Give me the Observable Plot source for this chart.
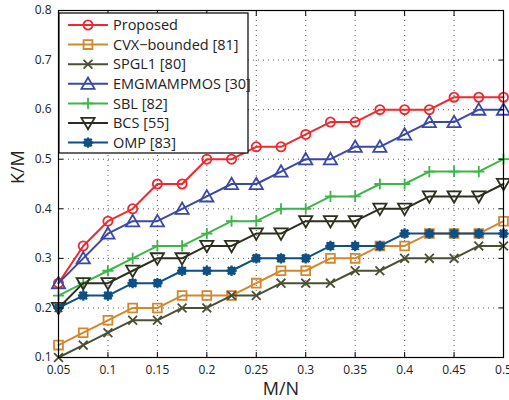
<!DOCTYPE html>
<html>
<head>
<meta charset="utf-8">
<script src="https://cdn.jsdelivr.net/npm/d3@7"></script>
<script src="https://cdn.jsdelivr.net/npm/@observablehq/plot@0.6"></script>
<style>
  html, body { margin: 0; padding: 0; background: #fff; }
  #chart { width: 509px; height: 400px; }
</style>
</head>
<body>
<div id="chart"></div>
<script>
// ---- data ----
const mn = [0.05, 0.075, 0.1, 0.125, 0.15, 0.175, 0.2, 0.225, 0.25, 0.275, 0.3, 0.325, 0.35, 0.375, 0.4, 0.425, 0.45, 0.475, 0.5];
const proposed   = [0.25, 0.325, 0.375, 0.4, 0.45, 0.45, 0.5, 0.5, 0.525, 0.525, 0.55, 0.575, 0.575, 0.6, 0.6, 0.6, 0.625, 0.625, 0.625];
const cvxBounded = [0.125, 0.15, 0.175, 0.2, 0.2, 0.225, 0.225, 0.225, 0.25, 0.275, 0.275, 0.3, 0.3, 0.325, 0.325, 0.35, 0.35, 0.35, 0.375];
const spgl1      = [0.1, 0.125, 0.15, 0.175, 0.175, 0.2, 0.2, 0.225, 0.225, 0.25, 0.25, 0.25, 0.275, 0.275, 0.3, 0.3, 0.3, 0.325, 0.325];
const emgmampmos = [0.25, 0.3, 0.35, 0.375, 0.375, 0.4, 0.425, 0.45, 0.45, 0.475, 0.5, 0.5, 0.525, 0.525, 0.55, 0.575, 0.575, 0.6, 0.6];
const sbl        = [0.225, 0.25, 0.275, 0.3, 0.325, 0.325, 0.35, 0.375, 0.375, 0.4, 0.4, 0.425, 0.425, 0.45, 0.45, 0.475, 0.475, 0.475, 0.5];
const bcs        = [0.2, 0.25, 0.25, 0.275, 0.3, 0.3, 0.325, 0.325, 0.35, 0.35, 0.375, 0.375, 0.375, 0.4, 0.4, 0.425, 0.425, 0.425, 0.45];
const omp        = [0.2, 0.225, 0.225, 0.25, 0.25, 0.275, 0.275, 0.275, 0.3, 0.3, 0.3, 0.325, 0.325, 0.325, 0.35, 0.35, 0.35, 0.35, 0.35];

const seriesNames = ["Proposed", "CVX\u2212bounded [81]", "SPGL1 [80]", "EMGMAMPMOS [30]", "SBL [82]", "BCS [55]", "OMP [83]"];
const seriesValues = [proposed, cvxBounded, spgl1, emgmampmos, sbl, bcs, omp];
const seriesColors = ["#ee2a2f", "#d4862c", "#4b5034", "#3a48a6", "#3db54a", "#2c2e1e", "#0e4f84"];

const xTicks = [0.05, 0.1, 0.15, 0.2, 0.25, 0.3, 0.35, 0.4, 0.45, 0.5];
const yTicks = [0.1, 0.2, 0.3, 0.4, 0.5, 0.6, 0.7, 0.8];

// ---- custom marker symbols (size = pi r^2) ----
const rad = s => Math.sqrt(s / Math.PI);
const symCircle = { draw(c, s) { const r = rad(s); c.moveTo(r, 0); c.arc(0, 0, r, 0, 2 * Math.PI); c.closePath(); } };
const symSquare = { draw(c, s) { const r = rad(s); c.rect(-r, -r, 2 * r, 2 * r); } };
const symTimes = { draw(c, s) { const r = rad(s); c.moveTo(-r, -r); c.lineTo(r, r); c.moveTo(r, -r); c.lineTo(-r, r); } };
const symTriUp = { draw(c, s) { const r = rad(s); c.moveTo(0, -1.05 * r); c.lineTo(1.1 * r, 0.85 * r); c.lineTo(-1.1 * r, 0.85 * r); c.closePath(); } };
const symTriDown = { draw(c, s) { const r = rad(s); c.moveTo(0, 1.05 * r); c.lineTo(1.1 * r, -0.85 * r); c.lineTo(-1.1 * r, -0.85 * r); c.closePath(); } };
const symPlus = { draw(c, s) { const r = rad(s); c.moveTo(-r, 0); c.lineTo(r, 0); c.moveTo(0, -r); c.lineTo(0, r); } };
const symStar = { draw(c, s) { const r = rad(s); const d = r * 0.72;
  c.moveTo(-r, 0); c.lineTo(r, 0); c.moveTo(0, -r); c.lineTo(0, r);
  c.moveTo(-d, -d); c.lineTo(d, d); c.moveTo(d, -d); c.lineTo(-d, d);
  const q = r * 0.62; c.moveTo(q, 0); c.arc(0, 0, q, 0, 2 * Math.PI); c.closePath(); } };

const seriesSymbols = [symCircle, symSquare, symTimes, symTriUp, symPlus, symTriDown, symStar];
const seriesR = [4.6, 4.4, 4.4, 6.0, 5.6, 6.0, 5.2];
const seriesFill = ["none", "none", "none", "none", "none", "none", "currentColor"];

const table = seriesNames.map((name, i) => mn.map((x, j) => ({ name, x, y: seriesValues[i][j] })));

const seriesMarks = table.flatMap((rows, i) => [
  Plot.line(rows, { x: "x", y: "y", stroke: seriesColors[i], strokeWidth: 2 }),
  Plot.dot(rows, { x: "x", y: "y", symbol: () => seriesSymbols[i], r: seriesR[i], stroke: seriesColors[i],
    fill: seriesFill[i] === "none" ? "none" : seriesColors[i], strokeWidth: i === 6 ? 2.2 : 1.8 })
]);

const plot = Plot.plot({
  width: 509,
  height: 400,
  marginLeft: 58,
  marginRight: 6,
  marginTop: 10,
  marginBottom: 43,
  x: { domain: [0.05, 0.5] },
  y: { domain: [0.1, 0.8] },
  symbol: { type: "identity" },
  style: { fontFamily: "'Open Sans', sans-serif", fontSize: "12px", color: "#222", background: "#fff", overflow: "visible" },
  marks: [
    Plot.gridX(xTicks, { stroke: "#444", strokeOpacity: 0.9, strokeDasharray: "1,4", strokeWidth: 1 }),
    Plot.gridY(yTicks, { stroke: "#444", strokeOpacity: 0.9, strokeDasharray: "1,4", strokeWidth: 1 }),
    ...seriesMarks,
    Plot.frame({ stroke: "#000", strokeWidth: 1.2 }),
    Plot.axisX(xTicks, { anchor: "bottom", tickSize: -5, tickPadding: 13, label: null, stroke: "#000", tickFormat: d => String(d) }),
    Plot.axisX(xTicks, { anchor: "top", tickSize: -5, tickFormat: () => "", label: null, stroke: "#000" }),
    Plot.axisY(yTicks, { anchor: "left", tickSize: -5, tickPadding: 12, label: null, stroke: "#000", tickFormat: d => String(d) }),
    Plot.axisY(yTicks, { anchor: "right", tickSize: -5, tickFormat: () => "", label: null, stroke: "#000" }),
    Plot.text(["M/N"], { frameAnchor: "bottom", dy: 25, fontSize: 18, fill: "#222", lineAnchor: "top" }),
    Plot.text(["K/M"], { frameAnchor: "left", dx: -40, rotate: -90, fontSize: 18, fill: "#222" })
  ]
});

document.getElementById("chart").appendChild(plot);

// ---- legend (MATLAB NorthWest box) drawn into the same SVG ----
const svg = d3.select(plot);
const lg = svg.append("g").attr("class", "legend").attr("text-anchor", "start");
const bx = 59, by = 13, bw = 189, bh = 140;
lg.append("rect").attr("x", bx).attr("y", by).attr("width", bw).attr("height", bh)
  .attr("fill", "#fff").attr("stroke", "#000").attr("stroke-width", 1.2);
seriesNames.forEach((name, i) => {
  const cy = by + 12 + i * 19.6;
  lg.append("line").attr("x1", bx + 9).attr("x2", bx + 49).attr("y1", cy).attr("y2", cy)
    .attr("stroke", seriesColors[i]).attr("stroke-width", 2);
  const r = seriesR[i];
  lg.append("path")
    .attr("d", d3.symbol().type(seriesSymbols[i]).size(Math.PI * r * r)())
    .attr("transform", `translate(${bx + 29},${cy})`)
    .attr("fill", seriesFill[i] === "none" ? "none" : seriesColors[i])
    .attr("stroke", seriesColors[i]).attr("stroke-width", i === 6 ? 2.2 : 1.8);
  lg.append("text").attr("x", bx + 54).attr("y", cy).attr("dy", "0.36em")
    .attr("text-anchor", "start").attr("font-size", 14.5).attr("fill", "#222").text(name);
});
</script>
</body>
</html>
